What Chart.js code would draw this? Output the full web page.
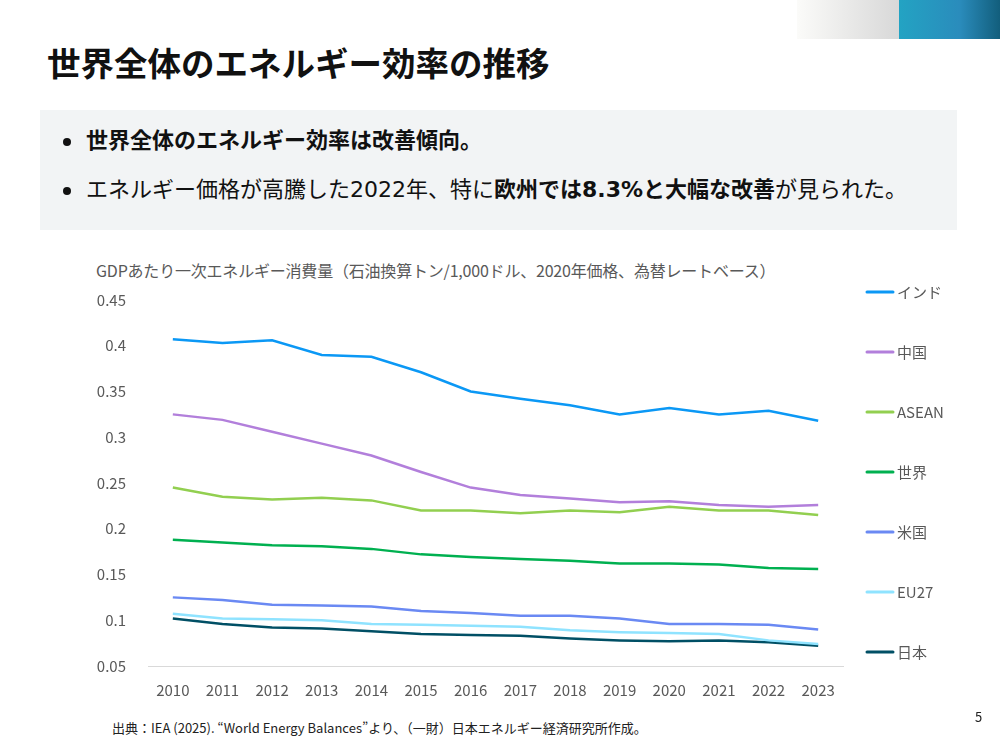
<!DOCTYPE html>
<html lang="ja">
<head>
<meta charset="utf-8">
<script src="https://cdn.jsdelivr.net/npm/chart.js@4.4.1/dist/chart.umd.min.js"></script>
<style>
  html, body { margin:0; padding:0; width:1000px; height:750px; background:#fff; overflow:hidden; position:relative;
    font-family:"Noto Sans CJK JP","Noto Sans",sans-serif; }
  .deco1 { position:absolute; left:797px; top:0; width:102px; height:39px; background:linear-gradient(90deg,#fbfbf9,#d8d8d8); }
  .deco2 { position:absolute; left:899px; top:0; width:101px; height:39px; background:linear-gradient(90deg,#23a3c3,#2a8cbc 60%,#125e7c); }
  h1 { position:absolute; left:47px; top:39px; margin:0; font-size:33.5px; font-weight:700; color:#111; line-height:46px; }
  .box { position:absolute; left:40px; top:110px; width:917px; height:120px; background:#f2f4f5; }
  .bl { position:absolute; left:86px; font-size:22px; color:#111; line-height:28px; white-space:nowrap;
    font-family:"DejaVu Sans","Noto Sans CJK JP",sans-serif; }
  .bl b { font-weight:700; }
  .dot { position:absolute; left:63px; width:8px; height:8px; border-radius:50%; background:#111; }
  .ctitle { position:absolute; left:96px; top:259px; font-size:16px; color:#595959; white-space:nowrap; line-height:22px; letter-spacing:-0.2px; }
  .foot { position:absolute; left:112px; top:719px; font-size:13px; color:#222; white-space:nowrap; line-height:18px; }
  .pg { position:absolute; left:975px; top:707px; font-size:13px; color:#222; }
  canvas { position:absolute; left:80px; top:250px; }
</style>
</head>
<body>
<div class="deco1"></div><div class="deco2"></div>
<h1>世界全体のエネルギー効率の推移</h1>
<div class="box"></div>
<div class="dot" style="top:138px"></div>
<div class="bl" style="top:127px"><b>世界全体のエネルギー効率は改善傾向。</b></div>
<div class="dot" style="top:187px"></div>
<div class="bl" style="top:176px">エネルギー価格が高騰した2022年、特に<b>欧州では8.3%と大幅な改善</b>が見られた。</div>
<div class="ctitle">GDPあたり一次エネルギー消費量（石油換算トン/1,000ドル、2020年価格、為替レートベース）</div>
<canvas id="c" width="920" height="460"></canvas>
<div class="foot">出典：IEA (2025). “World Energy Balances”より、（一財）日本エネルギー経済研究所作成。</div>
<div class="pg">5</div>
<script>
const years = ["2010","2011","2012","2013","2014","2015","2016","2017","2018","2019","2020","2021","2022","2023"];
const seriesNames = ["インド","中国","ASEAN","世界","米国","EU27","日本"];
const india = [0.407,0.403,0.406,0.390,0.388,0.371,0.350,0.342,0.335,0.325,0.332,0.325,0.329,0.318];
const china = [0.325,0.319,0.306,0.293,0.280,0.262,0.245,0.237,0.233,0.229,0.230,0.226,0.224,0.226];
const asean = [0.245,0.235,0.232,0.234,0.231,0.220,0.220,0.217,0.220,0.218,0.224,0.220,0.220,0.215];
const world = [0.188,0.185,0.182,0.181,0.178,0.172,0.169,0.167,0.165,0.162,0.162,0.161,0.157,0.156];
const usa   = [0.125,0.122,0.117,0.116,0.115,0.110,0.108,0.105,0.105,0.102,0.096,0.096,0.095,0.090];
const eu27  = [0.107,0.102,0.101,0.100,0.096,0.095,0.094,0.093,0.089,0.087,0.086,0.085,0.078,0.074];
const japan = [0.102,0.096,0.092,0.091,0.088,0.085,0.084,0.083,0.080,0.078,0.077,0.078,0.076,0.072];
const yTicks = [0.05,0.1,0.15,0.2,0.25,0.3,0.35,0.4,0.45];
const colors = ["#0b98f5","#b27fdb","#92cf50","#00b050","#6a89f3","#8fe3ff","#004f65"];

const allData = [india, china, asean, world, usa, eu27, japan];
const datasets = allData.map((d,i)=>({
  label: seriesNames[i], data: d, borderColor: colors[i], backgroundColor: colors[i],
  borderWidth: 2.5, pointRadius: 0, tension: 0, fill: false
}));

const legendPlugin = {
  id: 'sideLegend',
  afterDraw(chart) {
    const ctx = chart.ctx;
    ctx.save();
    chart.data.datasets.forEach((ds, i) => {
      const y = 42 + i * 60;
      ctx.strokeStyle = ds.borderColor;
      ctx.lineWidth = 3;
      ctx.lineCap = 'round';
      ctx.beginPath(); ctx.moveTo(787, y); ctx.lineTo(813, y); ctx.stroke();
      ctx.fillStyle = '#595959';
      ctx.font = '15px "Noto Sans CJK JP", sans-serif';
      ctx.textBaseline = 'middle';
      ctx.fillText(ds.label, 817, y);
    });
    ctx.restore();
  }
};

new Chart(document.getElementById('c'), {
  type: 'line',
  data: { labels: years, datasets },
  options: {
    responsive: false, animation: false, devicePixelRatio: 1,
    layout: { padding: { top: 50, right: 157, bottom: 0, left: 0 } },
    plugins: { legend: { display: false }, title: { display: false }, tooltip: { enabled: false } },
    scales: {
      x: {
        offset: true,
        grid: { display: false },
        border: { display: true, color: '#d9d9d9', width: 1 },
        ticks: { color: '#595959', font: { size: 15, family: '"Noto Sans CJK JP", sans-serif' }, padding: 7, maxRotation: 0 },
        afterFit(s) { s.height = 44; }
      },
      y: {
        min: 0.05, max: 0.45,
        grid: { display: false },
        border: { display: false },
        afterBuildTicks(s) { s.ticks = yTicks.map(v => ({ value: v })); },
        ticks: { color: '#595959', font: { size: 15, family: '"Noto Sans CJK JP", sans-serif' }, padding: 14,
          callback: v => String(parseFloat(Number(v).toFixed(2))) },
        afterFit(s) { s.width = 68; }
      }
    }
  },
  plugins: [legendPlugin]
});
</script>
</body>
</html>
